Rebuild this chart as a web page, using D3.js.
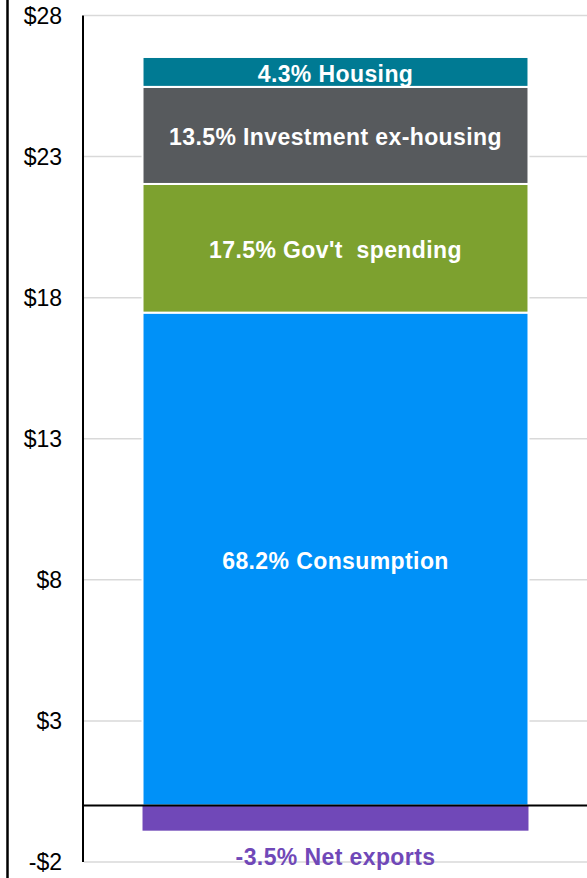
<!DOCTYPE html>
<html>
<head>
<meta charset="utf-8">
<script src="https://cdn.jsdelivr.net/npm/d3@7"></script>
<style>
  body { margin: 0; background: #fff; }
  text { font-family: "Liberation Sans", Arial, sans-serif; }
</style>
</head>
<body>
<script>
// GDP components, trillions of dollars
const categories = ["GDP"]
const components = ["Consumption", "Gov't  spending", "Investment ex-housing", "Housing"]
const values = [17.47, 4.56, 3.44, 1.06]
const shares = ["68.2%", "17.5%", "13.5%", "4.3%"]
const colors = ["#0091f8", "#7da12f", "#575a5d", "#007a93"]
const netExports = -0.89
const netLabel = "-3.5% Net exports"
const tickValues = [-2, 3, 8, 13, 18, 23, 28]

const w = 587
const h = 878

const svg = d3.select("body")
    .append("svg")
    .attr("width", w)
    .attr("height", h)

const x = d3.scaleBand()
    .domain(categories)
    .range([84, 587])
    .paddingInner(0)
    .paddingOuter(0.1516)

const y = d3.scaleLinear()
    .domain([-2, 28])
    .range([862, 15.5])

// gridlines
svg.append("g")
    .selectAll("line")
    .data(tickValues)
    .enter()
    .append("line")
    .attr("x1", 84)
    .attr("x2", w)
    .attr("y1", d => y(d))
    .attr("y2", d => y(d))
    .style("stroke", "#d9d9d9")
    .style("stroke-width", 1.5)

// stacked segments
let acc = 0
const stack = values.map(function(v, i) {
    const s = { name: components[i], share: shares[i], color: colors[i], y0: acc, y1: acc + v }
    acc += v
    return s
})

const bx = x(categories[0])
const bw = x.bandwidth()

svg.selectAll(".seg")
    .data(stack)
    .enter()
    .append("rect")
    .attr("class", "seg")
    .attr("x", bx)
    .attr("width", bw)
    .attr("y", d => y(d.y1))
    .attr("height", d => y(d.y0) - y(d.y1))
    .style("fill", d => d.color)
    .style("stroke", "#fff")
    .style("stroke-width", 2)

// net exports below zero
svg.append("rect")
    .attr("x", bx)
    .attr("width", bw)
    .attr("y", y(0))
    .attr("height", y(netExports) - y(0))
    .style("fill", "#7048b8")

svg.selectAll(".segLabel")
    .data(stack)
    .enter()
    .append("text")
    .attr("class", "segLabel")
    .attr("x", bx + bw / 2)
    .attr("y", d => (y(d.y0) + y(d.y1)) / 2)
    .attr("dy", "0.42em")
    .attr("text-anchor", "middle")
    .style("fill", "#fff")
    .style("font-weight", "bold")
    .style("font-size", "23px")
    .style("letter-spacing", "0.4px")
    .style("white-space", "pre")
    .text(d => d.share + " " + d.name)

svg.append("text")
    .attr("x", bx + bw / 2)
    .attr("y", 865)
    .attr("text-anchor", "middle")
    .style("fill", "#7048b8")
    .style("font-weight", "bold")
    .style("font-size", "23px")
    .style("letter-spacing", "0.4px")
    .text(netLabel)

// zero line
svg.append("line")
    .attr("x1", 82)
    .attr("x2", w)
    .attr("y1", y(0))
    .attr("y2", y(0))
    .style("stroke", "#000")
    .style("stroke-width", 2)

// y axis line and labels
svg.append("line")
    .attr("x1", 83)
    .attr("x2", 83)
    .attr("y1", y(28))
    .attr("y2", y(-2))
    .style("stroke", "#000")
    .style("stroke-width", 2)

svg.selectAll(".tick")
    .data(tickValues)
    .enter()
    .append("text")
    .attr("class", "tick")
    .attr("x", 62)
    .attr("y", d => y(d))
    .attr("dy", "0.36em")
    .attr("text-anchor", "end")
    .style("font-size", "23px")
    .style("fill", "#000")
    .text(d => (d < 0 ? "-$" : "$") + Math.abs(d))

// left frame line
svg.append("line")
    .attr("x1", 7.5)
    .attr("x2", 7.5)
    .attr("y1", 0)
    .attr("y2", h)
    .style("stroke", "#000")
    .style("stroke-width", 2.5)
</script>
</body>
</html>
